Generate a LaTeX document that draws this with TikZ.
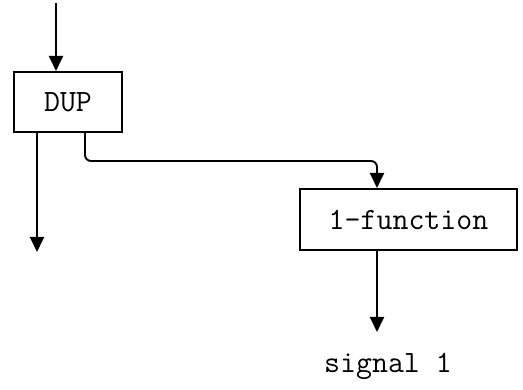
\documentclass[tikz,border=0pt]{standalone}
\usepackage{fontspec}
\usetikzlibrary{arrows.meta,positioning,calc}

\begin{document}
\begin{tikzpicture}[x=1pt, y=-1pt, >={Triangle[length=15pt,width=14pt]}, line width=1.9pt]
	\tikzstyle{block}=[draw=black, text=black, line width=2pt, inner sep=0pt, font=\fontsize{31}{36}\selectfont\ttfamily]
	\useasboundingbox (0,0) rectangle (523,390);

	\node [block, minimum width=108pt, minimum height=60pt] (dup) at (68,102) {DUP};
	\node [block, minimum width=217pt, minimum height=61pt] (fun) at (408.5,219.5) {1-function};
	\node [font=\fontsize{31}{36}\selectfont\ttfamily] (sig) at (388,366) {signal 1};

	\coordinate (in) at (56,3);
	\coordinate (left) at (37,252);
	\coordinate (out) at (377,332);

	\draw [->] (in) to ($(dup.north)+(-12,0)$);
	\draw [->] ($(dup.south)+(-31,0)$) to (left);
	\draw [->, rounded corners=6pt] ($(dup.south)+(17,0)$) |- ($(fun.north)+(-31.5,-27)$) to ($(fun.north)+(-31.5,0)$);
	\draw [->] ($(fun.south)+(-31.5,0)$) to (out);
\end{tikzpicture}
\end{document}
